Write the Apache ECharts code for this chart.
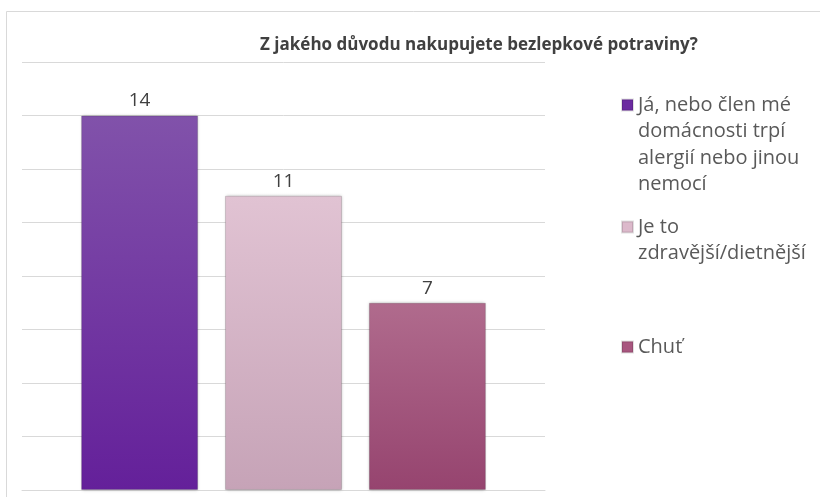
<!DOCTYPE html>
<html>
<head>
<meta charset="utf-8">
<script src="https://cdn.jsdelivr.net/npm/echarts@6/dist/echarts.min.js"></script>
<style>
  html, body { margin: 0; padding: 0; background: #fff; }
  #chart { width: 820px; height: 497px; }
</style>
</head>
<body>
<div id="chart"></div>
<script>
  // survey answers and counts
  const titleText = 'Z jakého důvodu nakupujete bezlepkové potraviny?';
  const categories = [
    'Já, nebo člen mé domácnosti trpí alergií nebo jinou nemocí',
    'Je to zdravější/dietnější',
    'Chuť'
  ];
  const values = [14, 11, 7];
  // how the legend text wraps, line by line
  const legendLines = [
    ['Já, nebo člen mé', 'domácnosti trpí', 'alergií nebo jinou', 'nemocí'],
    ['Je to', 'zdravější/dietnější'],
    ['Chuť']
  ];
  const yTicks = { min: 0, max: 16, interval: 2 };

  const barColors = [
    ['#8152aa', '#64209a'],
    ['#e1c3d3', '#c6a3b7'],
    ['#b06b8d', '#96446f']
  ];
  const legendColors = ['#6b2aa0', '#dcb9cb', '#a8567f'];
  const iconCenters = [105, 227, 347]; // y of first line of each legend entry
  const lineH = 26.5;

  const chart = echarts.init(document.getElementById('chart'));

  const series = categories.map((name, i) => ({
    name: name,
    type: 'bar',
    barWidth: 117,
    barGap: '23%',
    data: [values[i]],
    itemStyle: {
      color: new echarts.graphic.LinearGradient(0, 0, 0, 1, [
        { offset: 0, color: barColors[i][0] },
        { offset: 1, color: barColors[i][1] }
      ]),
      borderColor: 'rgba(0,0,0,0.12)',
      borderWidth: 1,
      shadowBlur: 3,
      shadowColor: 'rgba(0,0,0,0.25)'
    },
    label: {
      show: true,
      position: 'top',
      distance: 5,
      color: '#404040',
      fontSize: 19,
      fontFamily: 'Open Sans'
    },
    animation: false
  }));

  // one legend per entry so each can sit where the original has it
  const legends = categories.map((name, i) => {
    const n = legendLines[i].length;
    return {
      data: [{ name: name, itemStyle: { color: legendColors[i] } }],
      left: 621,
      top: iconCenters[i] - (2 * n - 1) * lineH / 2,
      orient: 'vertical',
      padding: 0,
      icon: 'rect',
      itemWidth: 11,
      itemHeight: 11,
      selectedMode: false,
      // blank lines in front keep the square level with the first line
      formatter: () => '\n'.repeat(n - 1) + legendLines[i].join('\n'),
      textStyle: {
        color: '#595959',
        fontSize: 20,
        lineHeight: lineH,
        fontFamily: 'Open Sans'
      }
    };
  });

  chart.setOption({
    backgroundColor: '#fff',
    animation: false,
    title: {
      text: titleText,
      left: 474,
      textAlign: 'center',
      top: 32,
      textStyle: {
        color: '#404040',
        fontSize: 17,
        fontWeight: 'bold',
        fontFamily: 'Open Sans'
      }
    },
    graphic: [{
      // outer frame of the chart area
      type: 'rect',
      shape: { x: 6.5, y: 11.5, width: 900, height: 600 },
      style: { fill: 'none', stroke: '#d9d9d9', lineWidth: 1 },
      silent: true
    }],
    legend: legends,
    grid: { left: 22, right: 275, top: 62, bottom: 7 },
    xAxis: {
      type: 'category',
      data: [''],
      axisLine: { show: true, lineStyle: { color: '#d9d9d9' } },
      axisTick: { show: false },
      axisLabel: { show: false }
    },
    yAxis: {
      type: 'value',
      min: yTicks.min,
      max: yTicks.max,
      interval: yTicks.interval,
      axisLine: { show: false },
      axisTick: { show: false },
      axisLabel: { show: false },
      splitLine: { lineStyle: { color: '#d9d9d9' } }
    },
    series: series
  });
</script>
</body>
</html>
